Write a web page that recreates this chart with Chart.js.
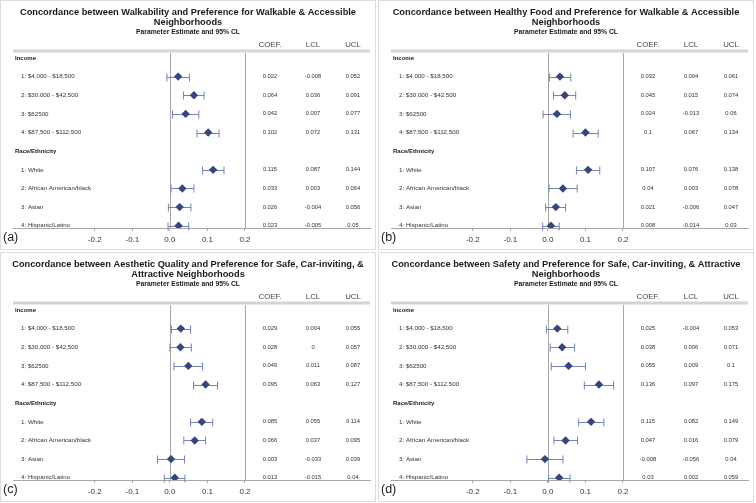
<!DOCTYPE html>
<html>
<head>
<meta charset="utf-8">
<script src="https://cdn.jsdelivr.net/npm/chart.js@4.4.0/dist/chart.umd.min.js"></script>
<style>
body { margin: 0; background: #fff; width: 756px; height: 503px; position: relative; overflow: hidden; }
canvas { position: absolute; }
</style>
</head>
<body>
<canvas id="chartA" width="376" height="250" style="left:0;top:0"></canvas>
<canvas id="chartB" width="376" height="250" style="left:378px;top:0"></canvas>
<canvas id="chartC" width="376" height="250" style="left:0;top:252px"></canvas>
<canvas id="chartD" width="376" height="250" style="left:378px;top:252px"></canvas>
<script>
// row labels and headers
const incomeLabels = ['1: $4,000 - $18,500', '2: $30,000 - $42,500', '3: $62500', '4: $87,500 - $112,500'];
const raceLabels = ['1: White', '2: African American/black', '3: Asian', '4: Hispanic/Latino'];
const groupLabels = ['Income', 'Race/Ethnicity'];
const columnHeaders = ['COEF.', 'LCL', 'UCL'];
const xTicks = [-0.2, -0.1, 0, 0.1, 0.2];

// (a) walkability
const walkCoef = [0.022, 0.064, 0.042, 0.102, 0.115, 0.033, 0.026, 0.023];
const walkLcl  = [-0.008, 0.036, 0.007, 0.072, 0.087, 0.003, -0.004, -0.005];
const walkUcl  = [0.052, 0.091, 0.077, 0.131, 0.144, 0.064, 0.056, 0.05];

// (b) healthy food
const foodCoef = [0.032, 0.045, 0.024, 0.1, 0.107, 0.04, 0.021, 0.008];
const foodLcl  = [0.004, 0.015, -0.013, 0.067, 0.076, 0.003, -0.006, -0.014];
const foodUcl  = [0.061, 0.074, 0.06, 0.134, 0.138, 0.078, 0.047, 0.03];

// (c) aesthetic quality
const aesCoef = [0.029, 0.028, 0.049, 0.095, 0.085, 0.066, 0.003, 0.013];
const aesLcl  = [0.004, 0, 0.011, 0.063, 0.055, 0.037, -0.033, -0.015];
const aesUcl  = [0.055, 0.057, 0.087, 0.127, 0.114, 0.095, 0.039, 0.04];

// (d) safety
const safeCoef = [0.025, 0.038, 0.055, 0.136, 0.115, 0.047, -0.008, 0.03];
const safeLcl  = [-0.004, 0.006, 0.009, 0.097, 0.082, 0.016, -0.056, 0.002];
const safeUcl  = [0.053, 0.071, 0.1, 0.175, 0.149, 0.079, 0.04, 0.059];

const rowLabels = incomeLabels.concat(raceLabels);
const rowPositions = [1, 2, 3, 4, 6, 7, 8, 9];
const groupPositions = [0, 5];

const FONT = '"Liberation Sans", Arial, sans-serif';
const colX = [270, 313, 353]; // COEF / LCL / UCL columns

const forestPlugin = {
    id: 'forest',
    beforeDatasetsDraw(chart, args, opts) {
        const ctx = chart.ctx;
        const xs = chart.scales.x, ys = chart.scales.y;
        const area = chart.chartArea;
        ctx.save();
        // panel frame
        ctx.strokeStyle = '#dcdcdc';
        ctx.lineWidth = 1;
        ctx.strokeRect(0.5, 0.5, chart.width - 1, chart.height - 1);
        // header separator
        ctx.strokeStyle = '#d4d4d4';
        ctx.lineWidth = 3;
        ctx.beginPath();
        ctx.moveTo(area.left, area.top - 1);
        ctx.lineTo(area.right, area.top - 1);
        ctx.stroke();
        // reference lines at 0 and 0.2
        ctx.strokeStyle = '#a6a6a6';
        ctx.lineWidth = 1;
        [0, 0.2].forEach(v => {
            const px = Math.round(xs.getPixelForValue(v)) + 0.5;
            ctx.beginPath();
            ctx.moveTo(px, area.top + 1);
            ctx.lineTo(px, area.bottom);
            ctx.stroke();
        });
        // error bars
        ctx.strokeStyle = '#7383b8';
        ctx.lineWidth = 1;
        opts.coef.forEach((c, i) => {
            const y = Math.round(ys.getPixelForValue(rowPositions[i])) + 0.5;
            const x1 = xs.getPixelForValue(opts.lcl[i]);
            const x2 = xs.getPixelForValue(opts.ucl[i]);
            ctx.beginPath();
            ctx.moveTo(x1, y); ctx.lineTo(x2, y);
            ctx.moveTo(x1, y - 4); ctx.lineTo(x1, y + 4);
            ctx.moveTo(x2, y - 4); ctx.lineTo(x2, y + 4);
            ctx.stroke();
        });
        ctx.restore();
    },
    afterDraw(chart, args, opts) {
        const ctx = chart.ctx;
        const ys = chart.scales.y;
        const cx = chart.width / 2;
        ctx.save();
        ctx.textBaseline = 'middle';
        ctx.textAlign = 'center';
        ctx.fillStyle = '#1a1a1a';
        ctx.font = 'bold 9.25px ' + FONT;
        ctx.fillText(opts.title1, cx, 12);
        ctx.fillText(opts.title2, cx, 22.5);
        ctx.font = 'bold 6.8px ' + FONT;
        ctx.fillText('Parameter Estimate and 95% CL', cx, 32.5);
        // column headers
        ctx.font = '7.8px ' + FONT;
        ctx.fillStyle = '#444';
        columnHeaders.forEach((h, j) => ctx.fillText(h, colX[j], 44.5));
        // values
        ctx.font = '5.8px ' + FONT;
        ctx.fillStyle = '#333';
        opts.coef.forEach((c, i) => {
            const y = ys.getPixelForValue(rowPositions[i]);
            [c, opts.lcl[i], opts.ucl[i]].forEach((v, j) => ctx.fillText(String(v), colX[j], y));
        });
        // group and row labels
        ctx.textAlign = 'left';
        ctx.font = 'bold 6px ' + FONT;
        ctx.fillStyle = '#222';
        groupLabels.forEach((g, k) => ctx.fillText(g, 15, ys.getPixelForValue(groupPositions[k])));
        ctx.font = '6.2px ' + FONT;
        ctx.fillStyle = '#333';
        rowLabels.forEach((r, i) => ctx.fillText(r, 21, ys.getPixelForValue(rowPositions[i])));
        // panel tag
        ctx.font = '12.5px ' + FONT;
        ctx.fillStyle = '#222';
        ctx.fillText(opts.tag, 3, 238);
        ctx.restore();
    }
};

function createForest(canvasId, tag, title1, title2, coef, lcl, ucl) {
    const ctx = document.getElementById(canvasId).getContext('2d');
    return new Chart(ctx, {
        type: 'scatter',
        data: {
            datasets: [{
                data: coef.map((c, i) => ({ x: c, y: rowPositions[i] })),
                pointStyle: 'rectRot',
                pointRadius: 4.2,
                backgroundColor: '#34467e',
                borderColor: '#34467e',
                borderWidth: 0
            }]
        },
        options: {
            responsive: false,
            animation: false,
            events: [],
            layout: { padding: { left: 13, right: 6, top: 52, bottom: 1 } },
            plugins: {
                legend: { display: false },
                tooltip: { enabled: false },
                forest: { tag, title1, title2, coef, lcl, ucl }
            },
            scales: {
                x: {
                    type: 'linear',
                    min: -0.418,
                    max: 0.533,
                    afterBuildTicks: scale => { scale.ticks = xTicks.map(v => ({ value: v })); },
                    afterFit: scale => { scale.height = 21; },
                    border: { color: '#a8a8a8' },
                    grid: { drawOnChartArea: false, color: '#a8a8a8', tickLength: 3 },
                    ticks: {
                        font: { size: 8, family: FONT },
                        color: '#333',
                        padding: 4,
                        maxRotation: 0,
                        autoSkip: false,
                        callback: v => v.toFixed(1)
                    }
                },
                y: { type: 'linear', display: false, reverse: true, min: -0.32, max: 9.12 }
            }
        },
        plugins: [forestPlugin]
    });
}

createForest('chartA', '(a)', 'Concordance between Walkability and Preference for Walkable & Accessible', 'Neighborhoods', walkCoef, walkLcl, walkUcl);
createForest('chartB', '(b)', 'Concordance between Healthy Food and Preference for Walkable & Accessible', 'Neighborhoods', foodCoef, foodLcl, foodUcl);
createForest('chartC', '(c)', 'Concordance between Aesthetic Quality and Preference for Safe, Car-inviting, &', 'Attractive Neighborhoods', aesCoef, aesLcl, aesUcl);
createForest('chartD', '(d)', 'Concordance between Safety and Preference for Safe, Car-inviting, & Attractive', 'Neighborhoods', safeCoef, safeLcl, safeUcl);
</script>
</body>
</html>
